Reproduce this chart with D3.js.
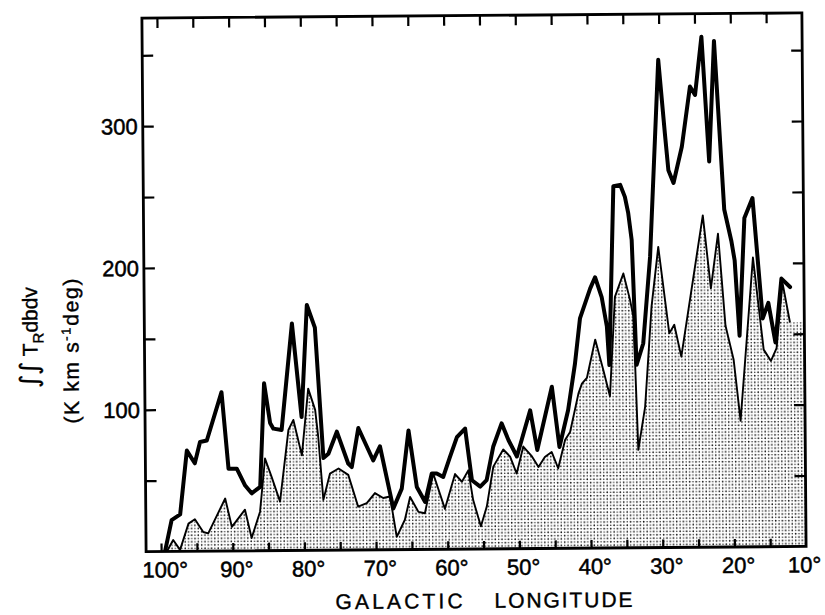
<!DOCTYPE html>
<html><head><meta charset="utf-8">
<script src="https://cdn.jsdelivr.net/npm/d3@7"></script>
<style>body{margin:0;background:#fff}svg{display:block}</style>
</head><body>
<svg id="c" width="825" height="615"></svg>
<script>
// ---- data (galactic longitude in degrees, integrated intensity) ----
const thickLon = [99.45,98.5,97.3,96.3,95.2,94.45,93.5,91.4,90.5,89.35,88.2,87.3,86.1,85.45,84.65,84.2,83.05,81.5,80.25,79.4,78.3,77.25,76.55,75.35,73.8,73.3,72.35,70.3,69.35,68.0,67.55,66.35,65.35,64.25,63.1,62.15,61.45,60.55,59.6,58.6,57.45,56.55,55.4,54.5,53.55,52.35,51.4,50.25,48.35,47.4,45.3,44.3,43.05,42.05,41.3,39.85,39.15,38.25,37.55,37.25,36.5,35.55,34.9,34.45,34.0,33.45,32.5,31.45,30.1,29.25,28.8,28.1,26.9,25.7,25.0,24.05,23.1,22.3,21.05,20.1,19.65,19.05,18.25,17.1,15.8,15.0,14.05,13.15,11.95];
const thickVal = [0,22,26,71,62,77,78,112,58,58,46,40.5,45,118,90,86,85,160,94,173,157,65,68,83.5,61,58.5,86,63,73,40,29,43,84,44,33.5,53.5,53.5,51,65,79,85,48.5,44,48.5,72,88.5,76.5,65,97.5,69.5,114,71.5,97.5,130,162,183,191,177,156,129,255,256,247.5,236,217,129,144,205,344,292,266,257,282.5,325,319,360,272,357,238,216,202,149,232,246,161,172,144,189,183];
const thinLon = [99.2,98.3,97.35,96.15,95.25,94.1,93.4,91.0,90.1,88.25,87.35,86.15,85.4,84.5,83.35,82.1,81.4,80.25,79.3,78.35,77.95,77.3,76.35,75.15,73.8,72.45,71.25,70.1,68.95,68.0,67.1,65.95,65.2,64.05,63.15,61.95,60.35,58.9,57.95,57.05,56.4,55.35,54.5,53.55,52.15,51.2,50.3,49.35,48.15,47.25,46.35,45.4,44.5,43.5,42.8,41.6,41.1,40.4,39.2,38.1,37.2,36.4,35.2,34.3,33.85,33.3,32.3,31.3,30.3,28.85,28.15,27.2,24.05,23.0,21.95,21.0,19.9,19.0,17.1,15.7,14.7,13.9,13.0,12.0];
const thinVal = [0,8,1,19.5,22.5,13.5,12.5,37,17,29,9,27.5,65,52,34.5,85,92,67,114,99,80,35.5,54,57.5,53,30.5,33,40,36.5,37.5,9,21,37,26.5,25.5,53.5,28.5,53,47.5,55.5,34.5,16,30,58,70,65,53,72,65,57.5,64.5,68,56.5,76.5,82,109,116,120,147,125.5,107,177,193.5,175,163,69,99.5,170,212,151,157,134.5,234,182.5,221,156,132,89,204,139,131,140,186,158];
const fillEndLon = [10];      // stipple continues to the frame
const fillEndVal = [158];
const xTicks = [100,95,90,85,80,75,70,65,60,55,50,45,40,35,30,25,20,15];
const xLabels = [100,90,80,70,60,50,40,30,20,10];
const yTicks = [50,100,150,200,250,300,350];
const yLabels = [100,200,300];
const xTitleWords = ["GALACTIC","LONGITUDE"];

// ---- layout ----
const L = 144, R = 804, T = 15.5, B = 549;
const x = d3.scaleLinear().domain([100,10]).range([159,804]);
const y = d3.scaleLinear().domain([0,300]).range([549,123.6]);
const FONT = "'Liberation Sans', Arial, sans-serif";

const svg = d3.select('#c');
svg.append('rect').attr('width',825).attr('height',615).attr('fill','#fff');
const defs = svg.append('defs');
const pat = defs.append('pattern').attr('id','dots').attr('patternUnits','userSpaceOnUse')
  .attr('width',6.6).attr('height',6.6);
pat.append('circle').attr('cx',1.65).attr('cy',1.65).attr('r',0.85).attr('fill','#111');
pat.append('circle').attr('cx',4.95).attr('cy',4.95).attr('r',0.85).attr('fill','#111');
pat.append('circle').attr('cx',4.95).attr('cy',1.65).attr('r',0.75).attr('fill','#222');
pat.append('circle').attr('cx',1.65).attr('cy',4.95).attr('r',0.75).attr('fill','#222');
defs.append('clipPath').attr('id','frame').append('rect')
  .attr('x',L).attr('y',T).attr('width',R-L).attr('height',B-T);

const g = svg.append('g').attr('transform','rotate(-0.45,475,283)');

const thick = thickLon.map((d,i)=>({lon:d,v:thickVal[i]}));
const thin = thinLon.map((d,i)=>({lon:d,v:thinVal[i]}));
const fillPts = thin.concat(fillEndLon.map((d,i)=>({lon:d,v:fillEndVal[i]})));

const plot = g.append('g').attr('clip-path','url(#frame)');
plot.append('path').datum(fillPts)
  .attr('d', d3.area().x(d=>x(d.lon)).y0(y(0)).y1(d=>y(d.v)))
  .attr('fill','url(#dots)');
plot.append('path').datum(thin)
  .attr('d', d3.line().x(d=>x(d.lon)).y(d=>y(d.v)))
  .attr('fill','none').attr('stroke','#000').attr('stroke-width',1.9)
  .attr('stroke-linejoin','round');
plot.append('path').datum(thick)
  .attr('d', d3.line().x(d=>x(d.lon)).y(d=>y(d.v)))
  .attr('fill','none').attr('stroke','#000').attr('stroke-width',4)
  .attr('stroke-linejoin','round').attr('stroke-linecap','round');

// ---- axes (inward ticks) ----
function styleAxis(sel){
  sel.select('.domain').remove();
  sel.selectAll('.tick line').attr('stroke','#000').attr('stroke-width',2.2);
  sel.selectAll('.tick text').remove();
}
g.append('g').attr('transform',`translate(0,${B})`)
  .call(d3.axisBottom(x).tickValues(xTicks).tickSize(-8)).call(styleAxis);
g.append('g').attr('transform',`translate(0,${T})`)
  .call(d3.axisTop(x).tickValues(xTicks).tickSize(-10)).call(styleAxis);
g.append('g').attr('transform',`translate(${L},0)`)
  .call(d3.axisLeft(y).tickValues(yTicks).tickSize(-11)).call(styleAxis);
g.append('g').attr('transform',`translate(${R},0)`)
  .call(d3.axisRight(y).tickValues(yTicks).tickSize(-11)).call(styleAxis);

g.append('rect').attr('x',L).attr('y',T).attr('width',R-L).attr('height',B-T)
  .attr('fill','none').attr('stroke','#000').attr('stroke-width',2.8);

// ---- tick labels ----
g.append('g').selectAll('text').data(xLabels).join('text')
  .attr('x',d=>d===10 ? 819 : x(d)+4)
  .attr('text-anchor',d=>d===10 ? 'end' : 'middle')
  .attr('y',575)
  .attr('font-family',FONT).attr('font-size',22)
  .attr('stroke','#000').attr('stroke-width',0.5)
  .text(d=>d+'°');
g.append('g').selectAll('text').data(yLabels).join('text')
  .attr('x',139).attr('y',d=>y(d)+8).attr('text-anchor','end')
  .attr('font-family',FONT).attr('font-size',22)
  .attr('stroke','#000').attr('stroke-width',0.5)
  .text(d=>d);

// ---- axis titles ----
const xt = [[333,127],[492,138]];
g.append('g').selectAll('text').data(xTitleWords).join('text')
  .attr('x',(d,i)=>xt[i][0]).attr('y',608)
  .attr('textLength',(d,i)=>xt[i][1]).attr('lengthAdjust','spacing')
  .attr('font-family',FONT).attr('font-size',21)
  .attr('stroke','#000').attr('stroke-width',0.4)
  .text(d=>d);

const yl1 = g.append('text').attr('transform','translate(37,334) rotate(-90)')
  .attr('text-anchor','middle').attr('font-family',FONT).attr('font-size',21)
  .attr('stroke','#000').attr('stroke-width',0.4);
yl1.append('tspan').attr('font-family',"'DejaVu Sans', sans-serif").attr('font-size',25).text('∫∫');
yl1.append('tspan').text(' T');
yl1.append('tspan').attr('font-size',15).attr('dy',6).text('R');
yl1.append('tspan').attr('dy',-6).text('dbdv');

const yl2 = g.append('text').attr('transform','translate(78,348) rotate(-90)')
  .attr('text-anchor','middle').attr('font-family',FONT).attr('font-size',21)
  .attr('textLength',145).attr('lengthAdjust','spacing')
  .attr('stroke','#000').attr('stroke-width',0.4);
yl2.append('tspan').text('(K km s');
yl2.append('tspan').attr('font-size',13).attr('dy',-8).text('-1');
yl2.append('tspan').attr('dy',8).text('deg)');
</script>
</body></html>
